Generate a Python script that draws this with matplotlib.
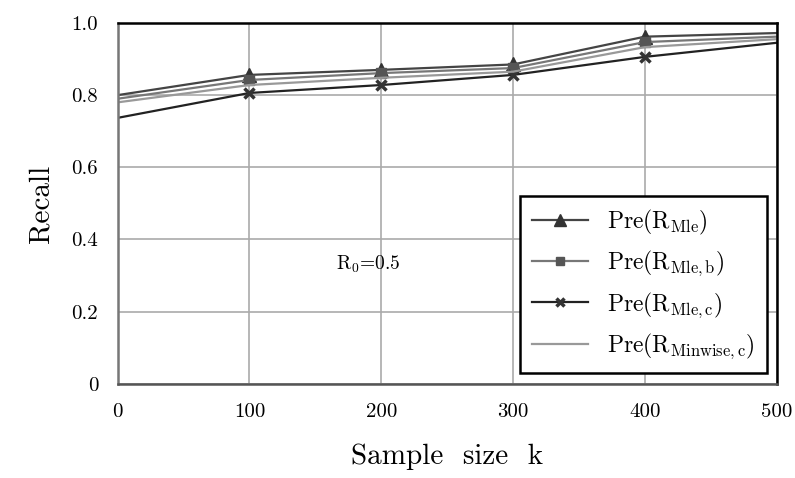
import numpy as np
import matplotlib.pyplot as plt

# data
k = [0, 100, 200, 300, 400, 500]
mle = [0.800, 0.856, 0.870, 0.885, 0.962, 0.972]
mle_b = [0.790, 0.842, 0.861, 0.875, 0.947, 0.962]
minwise = [0.780, 0.828, 0.848, 0.865, 0.933, 0.955]
mle_c = [0.737, 0.806, 0.828, 0.856, 0.906, 0.945]

xticks = [0, 100, 200, 300, 400, 500]
yticks = [0, 0.2, 0.4, 0.6, 0.8, 1.0]
ylabels = ['0', '0.2', '0.4', '0.6', '0.8', '1.0']

plt.rcParams['font.family'] = 'serif'
plt.rcParams['font.serif'] = ['cmr10', 'DejaVu Serif']
plt.rcParams['mathtext.fontset'] = 'cm'
plt.rcParams['axes.unicode_minus'] = False

fig = plt.figure(figsize=(7.95, 4.78), dpi=100)
ax = fig.add_axes([0.148, 0.197, 0.829, 0.755])

mk = [1, 2, 3, 4]
ax.plot(k, mle, color='#444444', lw=1.6, marker='^', ms=10, mfc='#333333',
        mec='#333333', markevery=mk, label=r'Pre(R$_{\rm Mle})$')
ax.plot(k, mle_b, color='#777777', lw=1.6, marker='s', ms=7, mfc='#555555',
        mec='#555555', markevery=mk, label=r'Pre(R$_{\rm Mle,b}$)')
ax.plot(k, mle_c, color='#222222', lw=1.6, marker='x', ms=7, mew=2.5,
        mec='#333333', markevery=mk, label=r'Pre(R$_{\rm Mle,c}$)')
ax.plot(k, minwise, color='#999999', lw=1.6, label=r'Pre(R$_{\rm Minwise,c}$)')

ax.text(190, 0.33, r'R$_0$=0.5', fontsize=14, ha='center', va='center')

ax.set_xlim(0, 500)
ax.set_ylim(0, 1.0)
ax.set_xticks(xticks)
ax.set_yticks(yticks)
ax.set_yticklabels(ylabels)
ax.tick_params(length=0, labelsize=15)
ax.tick_params(axis='x', pad=14)
ax.tick_params(axis='y', pad=14)
ax.grid(True, color='#aaaaaa', lw=1.2)
for s in ax.spines.values():
    s.set_linewidth(1.8)
    s.set_color('black')
ax.spines['left'].set_color('#777777')
ax.spines['bottom'].set_color('#555555')

ax.set_xlabel('Sample  size  k', fontsize=21, labelpad=16)
ax.set_ylabel('Recall', fontsize=21, labelpad=12)

leg = ax.legend(loc='lower right', bbox_to_anchor=(0.985, 0.03), borderaxespad=0,
                fontsize=17, frameon=True, fancybox=False, edgecolor='black',
                markerscale=0.8, handlelength=2.4, borderpad=0.5, labelspacing=0.5)
leg.get_frame().set_linewidth(1.8)
leg.get_frame().set_alpha(1)

fig.savefig('out.png', dpi=100)
